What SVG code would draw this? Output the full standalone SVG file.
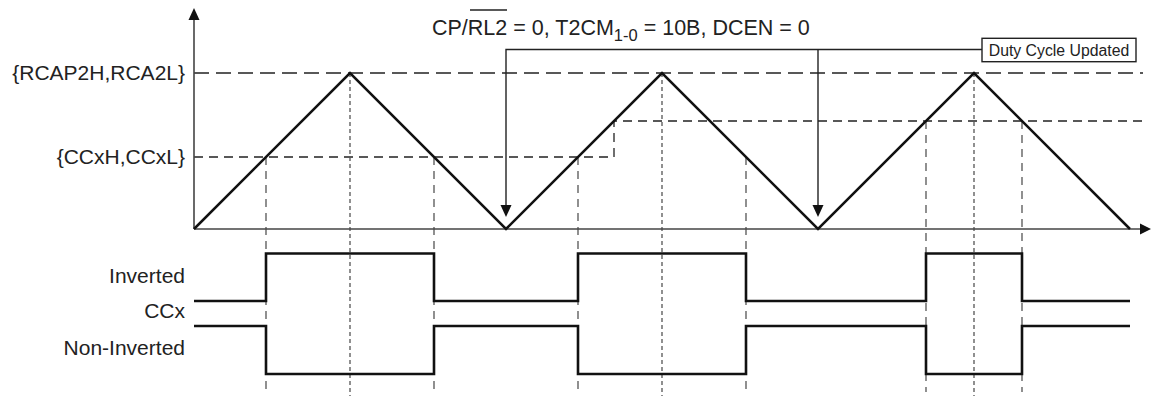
<svg xmlns="http://www.w3.org/2000/svg" width="1151" height="396" viewBox="0 0 1151 396">
<style>
text{font-family:"Liberation Sans",Arial,sans-serif;fill:#222}
.lbl{font-size:21px;text-anchor:end}
.axis{stroke:#444;stroke-width:1.6;fill:none}
.wave{stroke:#111;stroke-width:2.5;fill:none;stroke-linejoin:miter}
.hd1{stroke:#222;stroke-width:1.3;stroke-dasharray:15 7;fill:none}
.hd2{stroke:#222;stroke-width:1.3;stroke-dasharray:9 6;fill:none}
.vd1{stroke:#555;stroke-width:1.3;stroke-dasharray:8 6;fill:none}
.vd2{stroke:#555;stroke-width:1.3;stroke-dasharray:4 3;fill:none}
.br{stroke:#222;stroke-width:1.4;fill:none}
.sig{stroke:#111;stroke-width:2.6;fill:none}
</style>
<g id="guides">
<line class="hd1" x1="194" y1="73" x2="1143" y2="73"/>
<polyline class="hd2" points="194,157 614,157 614,121 1143,121"/>
<line class="vd1" x1="266" y1="157" x2="266" y2="392"/>
<line class="vd1" x1="434" y1="157" x2="434" y2="392"/>
<line class="vd1" x1="578" y1="157" x2="578" y2="392"/>
<line class="vd1" x1="746" y1="157" x2="746" y2="392"/>
<line class="vd1" x1="926" y1="121" x2="926" y2="392"/>
<line class="vd1" x1="1022" y1="121" x2="1022" y2="392"/>
<line class="vd2" x1="350" y1="73" x2="350" y2="396"/>
<line class="vd2" x1="662" y1="73" x2="662" y2="396"/>
<line class="vd2" x1="974" y1="73" x2="974" y2="396"/>
</g>
<g id="axes">
<line class="axis" x1="194" y1="18" x2="194" y2="229"/>
<path d="M188.5,20 L194,8 L199.5,20 Z" fill="#111"/>
<line class="axis" x1="194" y1="229" x2="1141" y2="229"/>
<path d="M1140,223.5 L1151,229 L1140,234.5 Z" fill="#111"/>
</g>
<g id="triangle">
<polyline class="wave" points="194,229 350,73 506,229 662,73 818,229 974,73 1130,229"/>
</g>
<g id="connectors">
<polyline class="br" points="506,206 506,49.5 982,49.5"/>
<line class="br" x1="818" y1="49.5" x2="818" y2="206"/>
<path d="M500.5,205 L511.5,205 L506,217 Z" fill="#111"/>
<path d="M812.5,205 L823.5,205 L818,217 Z" fill="#111"/>
</g>
<g id="note">
<rect x="982" y="38.3" width="154" height="23.4" fill="#fff" stroke="#222" stroke-width="1.4"/>
<text x="1059" y="55.5" font-size="15.8" text-anchor="middle">Duty Cycle Updated</text>
</g>
<g id="condition">
<text x="432" y="35" font-size="21.5">CP/RL2 = 0, T2CM<tspan font-size="16.5" dy="6">1-0</tspan><tspan dy="-6"> = 10B, DCEN = 0</tspan></text>
<line x1="470" y1="10" x2="507" y2="10" stroke="#222" stroke-width="1.5"/>
</g>
<g id="labels">
<text class="lbl" x="185" y="80">{RCAP2H,RCA2L}</text>
<text class="lbl" x="185" y="164">{CCxH,CCxL}</text>
<text class="lbl" x="185" y="283">Inverted</text>
<text class="lbl" x="185" y="318">CCx</text>
<text class="lbl" x="185" y="355">Non-Inverted</text>
</g>
<g id="inverted">
<polyline class="sig" points="194,301 266,301 266,253.5 434,253.5 434,301 578,301 578,253.5 746,253.5 746,301 926,301 926,253.5 1022,253.5 1022,301 1130,301"/>
</g>
<g id="noninverted">
<polyline class="sig" points="194,326 266,326 266,374 434,374 434,326 578,326 578,374 746,374 746,326 926,326 926,374 1022,374 1022,326 1130,326"/>
</g>
</svg>
